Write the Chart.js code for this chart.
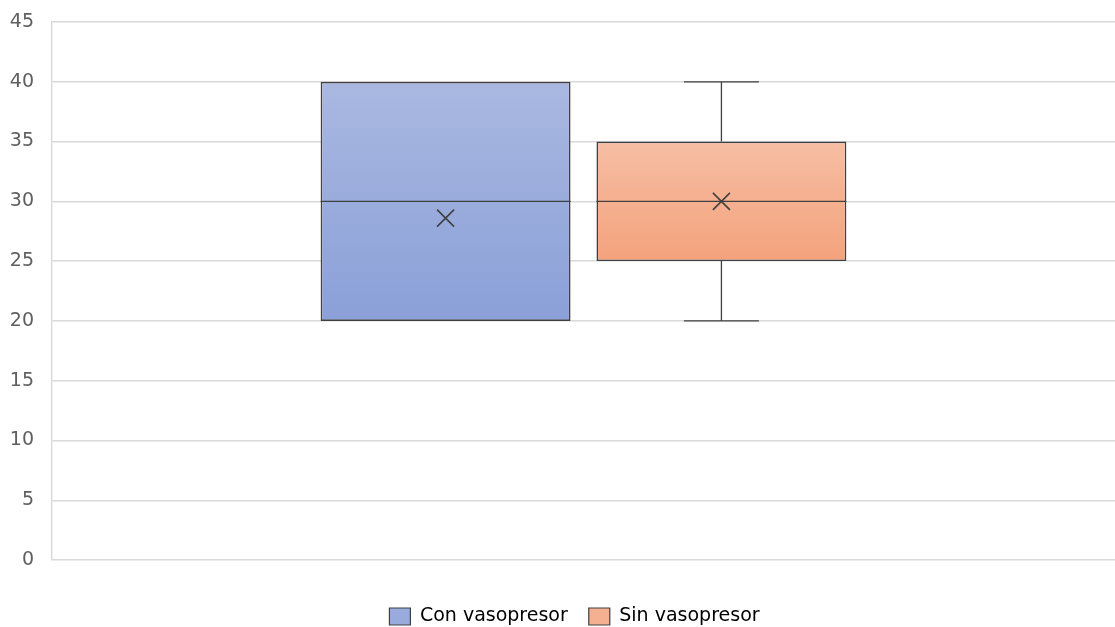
<!DOCTYPE html>
<html>
<head>
<meta charset="utf-8">
<script src="https://cdn.jsdelivr.net/npm/chart.js@4.4.1/dist/chart.umd.min.js"></script>
<style>
  html, body { margin: 0; padding: 0; background: #ffffff; }
  #wrap { width: 1115px; height: 627px; position: relative; }
</style>
</head>
<body>
<div id="wrap"><canvas id="chart"></canvas></div>
<script>
// Box-plot summary per group
const groups = ['Con vasopresor', 'Sin vasopresor'];
const minimums = [20, 20];
const firstQuartiles = [20, 25];
const medians = [30, 30];
const thirdQuartiles = [40, 35];
const maximums = [40, 40];
const means = [28.6, 30];

// Y axis range
const yMin = 0;
const yMax = 45;
const yStep = 5;

// Fill colours (top -> bottom gradient) and legend swatches
const gradientTops = ['#aab8e1', '#f6bea4'];
const gradientBottoms = ['#8aa0d8', '#f4a27c'];
const swatchColors = ['#98abdc', '#f5b091'];
const strokeColor = '#404040';
const textColor = '#5f5f5f';
const fontFamily = "'DejaVu Sans', 'Open Sans', sans-serif";

function boxFill(i) {
  return function (ctx) {
    const chart = ctx.chart;
    const y = chart.scales && chart.scales.y;
    if (!chart.chartArea || !y) return swatchColors[i];
    const top = y.getPixelForValue(thirdQuartiles[i]);
    const bottom = y.getPixelForValue(firstQuartiles[i]);
    const g = chart.ctx.createLinearGradient(0, top, 0, bottom);
    g.addColorStop(0, gradientTops[i]);
    g.addColorStop(1, gradientBottoms[i]);
    return g;
  };
}

// Medians, whiskers and mean markers drawn over each box
const boxDetails = {
  id: 'boxDetails',
  afterDatasetsDraw(chart) {
    const ctx = chart.ctx;
    const y = chart.scales.y;
    chart.data.datasets.forEach((ds, i) => {
      const bar = chart.getDatasetMeta(i).data[0];
      if (!bar) return;
      const cx = bar.x;
      const half = bar.width / 2;
      const capHalf = bar.width * 0.15;
      ctx.save();
      ctx.strokeStyle = strokeColor;
      ctx.lineWidth = 1.3;
      // median
      const ym = y.getPixelForValue(medians[i]);
      ctx.beginPath();
      ctx.moveTo(cx - half, ym);
      ctx.lineTo(cx + half, ym);
      ctx.stroke();
      // upper whisker
      if (maximums[i] > thirdQuartiles[i]) {
        const yq = y.getPixelForValue(thirdQuartiles[i]);
        const yw = y.getPixelForValue(maximums[i]);
        ctx.beginPath();
        ctx.moveTo(cx, yq); ctx.lineTo(cx, yw);
        ctx.moveTo(cx - capHalf, yw); ctx.lineTo(cx + capHalf, yw);
        ctx.stroke();
      }
      // lower whisker
      if (minimums[i] < firstQuartiles[i]) {
        const yq = y.getPixelForValue(firstQuartiles[i]);
        const yw = y.getPixelForValue(minimums[i]);
        ctx.beginPath();
        ctx.moveTo(cx, yq); ctx.lineTo(cx, yw);
        ctx.moveTo(cx - capHalf, yw); ctx.lineTo(cx + capHalf, yw);
        ctx.stroke();
      }
      // mean marker
      const ya = y.getPixelForValue(means[i]);
      const s = 8.5;
      ctx.lineWidth = 1.6;
      ctx.beginPath();
      ctx.moveTo(cx - s, ya - s); ctx.lineTo(cx + s, ya + s);
      ctx.moveTo(cx - s, ya + s); ctx.lineTo(cx + s, ya - s);
      ctx.stroke();
      ctx.restore();
    });
  }
};

// Legend row sits lower and centred a little right of the canvas centre
const legendPlacement = {
  id: 'legendPlacement',
  afterLayout(chart) {
    const lg = chart.legend;
    if (!lg) return;
    const opts = lg.options.labels;
    const itemHeight = Math.max(opts.font.size, opts.boxHeight);
    const centreY = 616.5;
    const newTop = centreY - opts.padding - itemHeight / 2;
    const h = lg.bottom - lg.top;
    lg.top = newTop;
    lg.bottom = newTop + h;
    lg.left += 17;
    lg.right += 17;
  }
};

const datasets = groups.map((name, i) => ({
  label: name,
  data: [[firstQuartiles[i], thirdQuartiles[i]]],
  backgroundColor: boxFill(i),
  borderColor: strokeColor,
  borderWidth: 1.6,
  borderSkipped: false,
  categoryPercentage: 0.519,
  barPercentage: 0.906
}));

new Chart(document.getElementById('chart'), {
  type: 'bar',
  data: { labels: [''], datasets },
  options: {
    responsive: true,
    maintainAspectRatio: false,
    animation: false,
    layout: { padding: { top: 22, right: 0, bottom: 17, left: 0 } },
    plugins: {
      tooltip: { enabled: false },
      legend: {
        position: 'bottom',
        labels: {
          color: textColor,
          font: { family: fontFamily, size: 19 },
          boxWidth: 21,
          boxHeight: 17,
          padding: 21,
          generateLabels() {
            return groups.map((name, i) => ({
              text: name,
              fillStyle: swatchColors[i],
              strokeStyle: strokeColor,
              lineWidth: 1.2,
              datasetIndex: i
            }));
          }
        }
      }
    },
    scales: {
      x: { display: false },
      y: {
        min: yMin,
        max: yMax,
        afterFit(scale) {
          scale.width = 52;
          scale.paddingTop = 0;
          scale.paddingBottom = 0;
        },
        ticks: {
          stepSize: yStep,
          color: textColor,
          font: { family: fontFamily, size: 19 },
          padding: 18
        },
        grid: { color: '#d9d9d9', lineWidth: 1.4, drawTicks: false },
        border: { color: '#d9d9d9', width: 1.4 }
      }
    }
  },
  plugins: [boxDetails, legendPlacement]
});
</script>
</body>
</html>
